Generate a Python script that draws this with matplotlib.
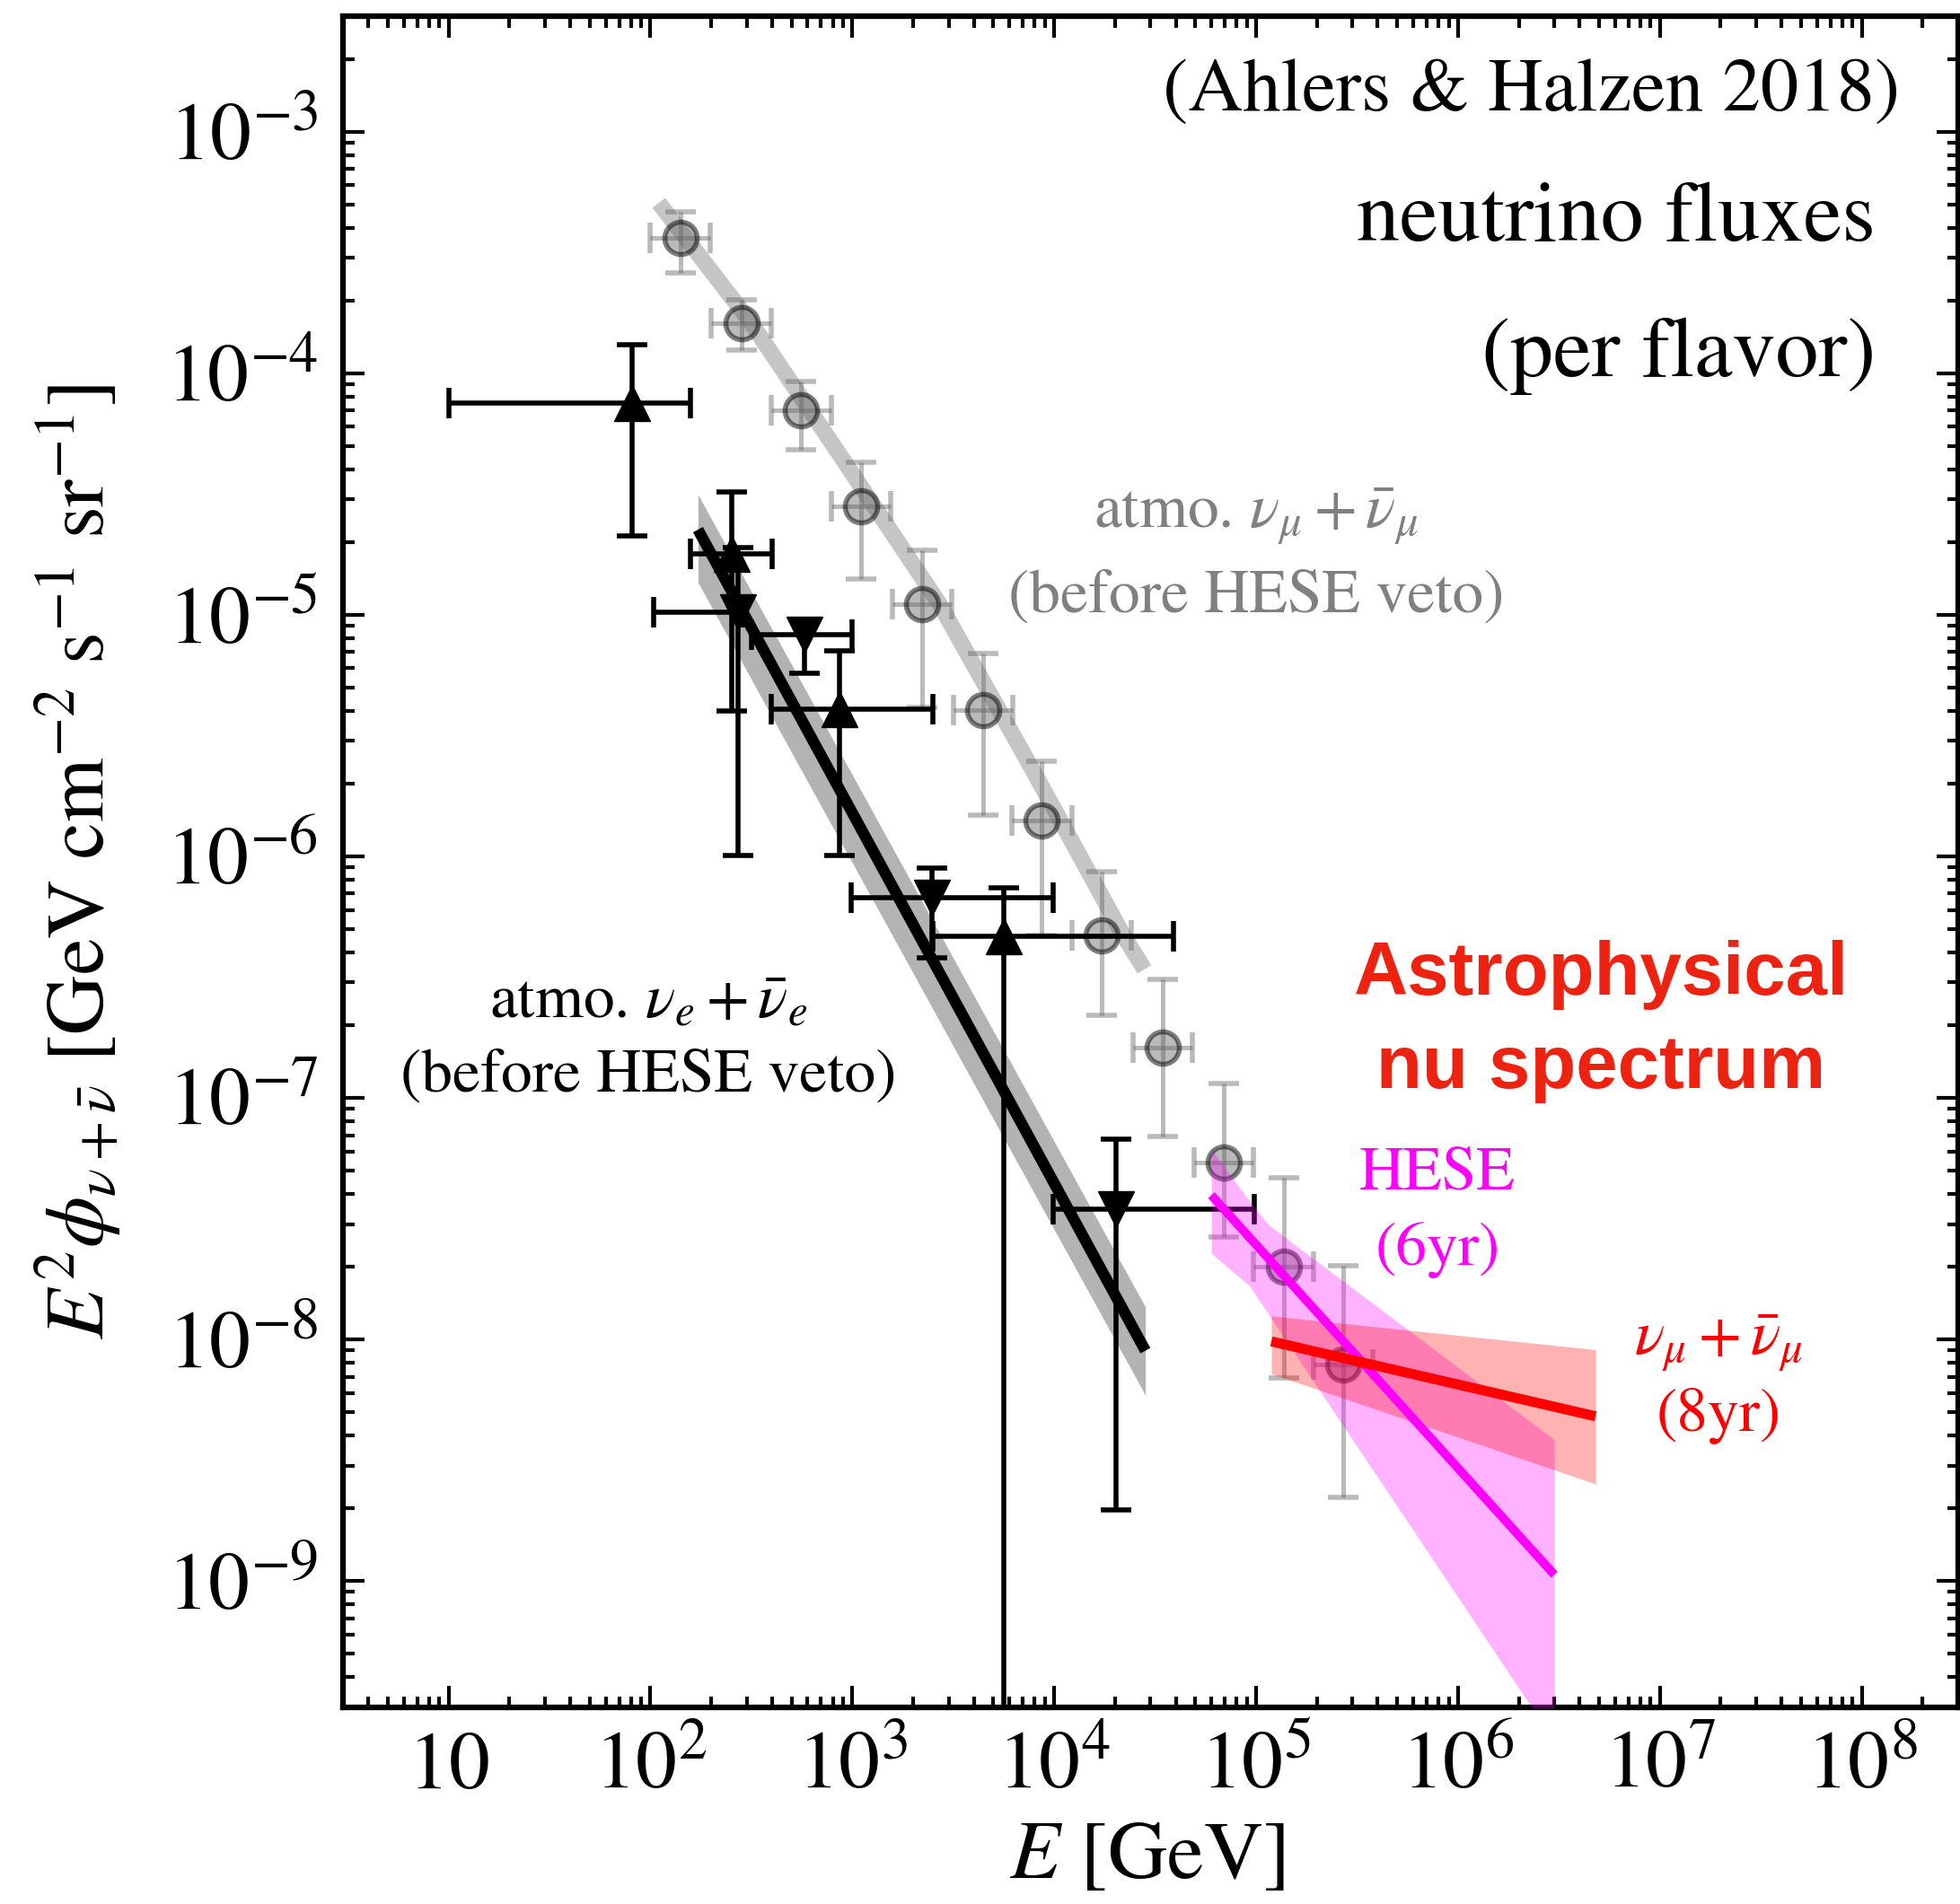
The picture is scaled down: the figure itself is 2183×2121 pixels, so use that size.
import numpy as np
import matplotlib
matplotlib.use('Agg')
import matplotlib.pyplot as plt
from matplotlib.ticker import LogLocator, NullFormatter

plt.rcParams['font.family'] = 'STIXGeneral'
plt.rcParams['mathtext.fontset'] = 'stix'

# atmospheric nu_mu + nubar_mu unfolding (grey circles)
numu_E = [141, 282, 558, 1104, 2218, 4450, 8670, 1.72e4, 3.44e4, 6.9e4, 1.37e5, 2.7e5]
numu_Elo = [100, 200, 397, 785, 1578, 3165, 6166, 1.22e4, 2.45e4, 4.91e4, 9.74e4, 1.92e5]
numu_Ehi = [198, 397, 785, 1552, 3119, 6257, 1.22e4, 2.42e4, 4.84e4, 9.7e4, 1.93e5, 3.8e5]
numu_F = [3.63e-4, 1.61e-4, 7.0e-5, 2.82e-5, 1.11e-5, 4.04e-6, 1.41e-6,
          4.72e-7, 1.61e-7, 5.38e-8, 2.0e-8, 7.87e-9]
numu_Fhi = [4.66e-4, 2.02e-4, 9.2e-5, 4.29e-5, 1.84e-5, 6.9e-6, 2.48e-6,
            8.6e-7, 3.1e-7, 1.15e-7, 4.66e-8, 2.02e-8]
numu_Flo = [2.60e-4, 1.25e-4, 4.83e-5, 1.41e-5, 4.14e-6, 1.48e-6, 4.72e-7,
            2.2e-7, 6.9e-8, 2.66e-8, 6.9e-9, 2.22e-9]

# atmospheric nu_mu model curve
numu_model_E = [110, 316, 1000, 2700, 8000, 2.2e4, 2.8e4]
numu_model_F = [5.07e-4, 1.61e-4, 3.84e-5, 1.11e-5, 2.2e-6, 4.7e-7, 3.4e-7]

# atmospheric nu_e + nubar_e, first data set (up triangles)
nue1_E = [80.7, 252, 861, 5623]
nue1_Elo = [10, 158, 397, 2500]
nue1_Ehi = [158, 400, 2512, 3.9e4]
nue1_F = [7.52e-5, 1.78e-5, 4.05e-6, 4.68e-7]
nue1_Fhi = [1.31e-4, 3.22e-5, 7.08e-6, 7.4e-7]
nue1_Flo = [2.11e-5, 3.99e-6, 1.01e-6, 1e-12]

# atmospheric nu_e + nubar_e, second data set (down triangles)
nue2_E = [272, 582, 2477, 2.03e4]
nue2_Elo = [104, 316, 986, 9840]
nue2_Ehi = [290, 998, 9860, 9.8e4]
nue2_F = [1.02e-5, 8.3e-6, 6.73e-7, 3.47e-8]
nue2_Fhi = [1.9e-5, 9.5e-6, 8.97e-7, 6.73e-8]
nue2_Flo = [1.01e-6, 5.73e-6, 3.79e-7, 1.97e-9]

# atmospheric nu_e model with band
nue_model_E = [172, 2.83e4]
nue_model_F = [2.25e-5, 8.97e-9]
nue_band_hi = [3.14e-5, 1.36e-8]
nue_band_lo = [1.36e-5, 5.87e-9]

# HESE 6yr astrophysical fit
hese_E = [6.0e4, 3.0e6]
hese_F = [3.95e-8, 1.06e-9]
hese_band_E = [6.0e4, 9.25e4, 1.16e5, 3.0e6]
hese_band_hi = [6.14e-8, 3.74e-8, 2.96e-8, 3.84e-9]
hese_band_lo = [2.27e-8, 1.67e-8, 1.26e-8, 2.17e-10]

# through-going nu_mu 8yr astrophysical fit
tg_E = [1.19e5, 4.8e6]
tg_F = [9.8e-9, 4.8e-9]
tg_band_hi = [1.25e-8, 9.06e-9]
tg_band_lo = [7.2e-9, 2.52e-9]

xticks = [1e1, 1e2, 1e3, 1e4, 1e5, 1e6, 1e7, 1e8]
xticklabels = ['$10$', '$10^{2}$', '$10^{3}$', '$10^{4}$', '$10^{5}$',
               '$10^{6}$', '$10^{7}$', '$10^{8}$']
yticks = [1e-9, 1e-8, 1e-7, 1e-6, 1e-5, 1e-4, 1e-3]
yticklabels = ['$10^{-9}$', '$10^{-8}$', '$10^{-7}$', '$10^{-6}$',
               '$10^{-5}$', '$10^{-4}$', '$10^{-3}$']


def asym(c, lo, hi):
    c, lo, hi = np.asarray(c), np.asarray(lo), np.asarray(hi)
    return [c - lo, hi - c]


fig = plt.figure(figsize=(21.83, 21.21), dpi=100)
ax = fig.add_axes([0.175, 0.1034, 0.824, 0.888])
ax.set_xscale('log')
ax.set_yscale('log')

grey_face = (0.4, 0.4, 0.4, 0.45)
ax.plot(numu_model_E, numu_model_F, color='0.5', alpha=0.45, lw=13,
        solid_capstyle='butt', zorder=1)
ax.errorbar(numu_E, numu_F, xerr=asym(numu_E, numu_Elo, numu_Ehi),
            yerr=asym(numu_F, numu_Flo, numu_Fhi), fmt='o', ms=26,
            mfc=grey_face, mec=(0, 0, 0, 0.5), mew=4, ecolor=grey_face,
            elinewidth=3.6, capsize=12, capthick=3.6, zorder=2)

ax.fill_between(nue_model_E, nue_band_lo, nue_band_hi, color='0.7', lw=0,
                zorder=3)
ax.plot(nue_model_E, nue_model_F, color='k', lw=9, solid_capstyle='butt',
        zorder=4)
ax.errorbar(nue1_E, nue1_F, xerr=asym(nue1_E, nue1_Elo, nue1_Ehi),
            yerr=asym(nue1_F, nue1_Flo, nue1_Fhi), fmt='^', ms=29, color='k',
            elinewidth=4, capsize=12, capthick=4, zorder=5)
ax.errorbar(nue2_E, nue2_F, xerr=asym(nue2_E, nue2_Elo, nue2_Ehi),
            yerr=asym(nue2_F, nue2_Flo, nue2_Fhi), fmt='v', ms=29, color='k',
            elinewidth=4, capsize=12, capthick=4, zorder=5)

ax.fill_between(hese_band_E, hese_band_lo, hese_band_hi, color='magenta',
                alpha=0.3, lw=0, zorder=6)
ax.fill_between(tg_E, tg_band_lo, tg_band_hi, color='red', alpha=0.3, lw=0,
                zorder=6)
ax.plot(hese_E, hese_F, color='magenta', lw=7, solid_capstyle='butt', zorder=7)
ax.plot(tg_E, tg_F, color='red', lw=8, solid_capstyle='butt', zorder=7)

ax.set_xlim(3, 3e8)
ax.set_ylim(3e-10, 3e-3)
ax.set_xticks(xticks)
ax.set_xticklabels(xticklabels, va='baseline')
ax.set_yticks(yticks)
ax.set_yticklabels(yticklabels)
ax.xaxis.set_minor_locator(LogLocator(base=10, subs=np.arange(2, 10), numticks=20))
ax.yaxis.set_minor_locator(LogLocator(base=10, subs=np.arange(2, 10), numticks=20))
ax.xaxis.set_minor_formatter(NullFormatter())
ax.yaxis.set_minor_formatter(NullFormatter())
ax.tick_params(which='both', direction='in', top=True, right=True,
               labelsize=66, width=3)
ax.tick_params(which='major', length=17)
ax.tick_params(which='minor', length=9)
ax.tick_params(axis='x', which='major', pad=65)
ax.tick_params(axis='y', which='major', pad=20)
for sp in ax.spines.values():
    sp.set_linewidth(4.5)

ax.set_xlabel('$E$ [GeV]', fontsize=66, va='center')
ax.xaxis.set_label_coords(0.498, -0.090)
ax.set_ylabel(r'$E^2\phi_{\nu+\bar{\nu}}$ [GeV cm$^{-2}$ s$^{-1}$ sr$^{-1}$]',
              fontsize=66, va='center')
ax.yaxis.set_label_coords(-0.1636, 0.5)

tr = ax.transAxes
ax.text(0.964, 0.955, '(Ahlers & Halzen 2018)', transform=tr, ha='right',
        va='center', fontsize=61)
ax.text(0.949, 0.879, 'neutrino fluxes', transform=tr, ha='right',
        va='center', fontsize=69)
ax.text(0.949, 0.799, '(per flavor)', transform=tr, ha='right',
        va='center', fontsize=69)

grey = '#808080'
ax.text(0.5655, 0.7037, r'atmo. $\nu_\mu+\bar{\nu}_\mu$', transform=tr,
        ha='center', va='center', fontsize=50, color=grey)
ax.text(0.5655, 0.6564, '(before HESE veto)', transform=tr, ha='center',
        va='center', fontsize=50, color=grey)
ax.text(0.1893, 0.4162, r'atmo. $\nu_e+\bar{\nu}_e$', transform=tr,
        ha='center', va='center', fontsize=50, color='k')
ax.text(0.1893, 0.3726, '(before HESE veto)', transform=tr, ha='center',
        va='center', fontsize=50, color='k')

ax.text(0.779, 0.4331, 'Astrophysical', transform=tr, ha='center',
        va='center', fontsize=60, color='#ee2211', fontweight='bold',
        family='Liberation Sans')
ax.text(0.779, 0.3777, 'nu spectrum', transform=tr, ha='center',
        va='center', fontsize=60, color='#ee2211', fontweight='bold',
        family='Liberation Sans')

ax.text(0.6777, 0.3149, 'HESE', transform=tr, ha='center', va='center',
        fontsize=50, color='magenta')
ax.text(0.6777, 0.2706, '(6yr)', transform=tr, ha='center', va='center',
        fontsize=50, color='magenta')
ax.text(0.8519, 0.2149, r'$\nu_\mu+\bar{\nu}_\mu$', transform=tr,
        ha='center', va='center', fontsize=50, color='red')
ax.text(0.8519, 0.1721, '(8yr)', transform=tr, ha='center', va='center',
        fontsize=50, color='red')

fig.savefig('out.png', dpi=100)
